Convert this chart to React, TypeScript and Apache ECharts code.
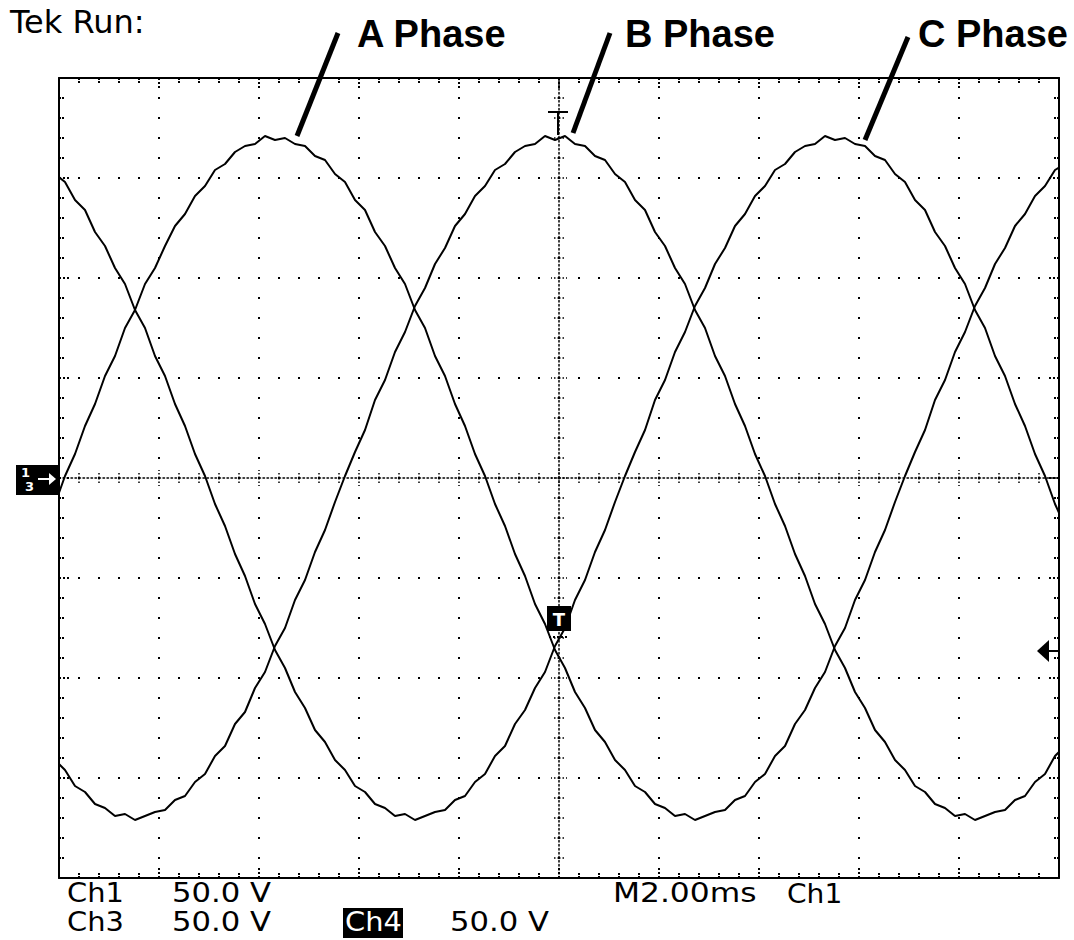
import React, { useEffect, useRef } from "react";
import * as echarts from "echarts";

// Sample clock of the record (ms): first sample time and spacing
const SAMPLE_START_MS = -0.08;
const SAMPLE_STEP_MS = 0.2;

// Volts (50 V/div)
const phaseA = [
  -13, 1, 12, 26, 37, 51, 61, 75, 84, 97,
  105, 116, 126, 132, 141, 146, 154, 157, 163, 166,
  167, 171, 169, 170, 167, 166, 161, 159, 152, 148,
  139, 134, 123, 116, 105, 97, 84, 75, 61, 51,
  37, 26, 12, 1, -13, -24, -38, -49, -63, -73,
  -86, -95, -107, -115, -126, -132, -141, -146, -154, -157,
  -163, -165, -169, -168, -171, -169, -167, -166, -161, -159,
  -152, -148, -139, -134, -123, -116, -105, -97, -84, -75,
  -61, -51, -37, -26, -12, 1, 13, 24, 39, 49,
  63, 73, 86, 95, 107, 115, 126, 132, 141, 146,
  154, 157,
];
const phaseB = [
  -141, -146, -154, -157, -163, -165, -169, -168, -171, -169,
  -167, -166, -161, -159, -152, -148, -139, -134, -123, -117,
  -105, -97, -84, -75, -61, -51, -37, -26, -12, 1,
  13, 24, 39, 49, 63, 73, 86, 95, 107, 115,
  126, 132, 141, 146, 154, 157, 163, 166, 167, 171,
  169, 171, 167, 166, 161, 159, 152, 148, 139, 134,
  123, 116, 105, 97, 84, 75, 61, 51, 37, 26,
  12, 1, -13, -24, -38, -49, -63, -73, -86, -95,
  -107, -115, -126, -132, -141, -146, -154, -157, -163, -165,
  -169, -168, -171, -169, -167, -166, -161, -159, -152, -148,
  -139, -134,
];
const phaseC = [
  152, 148, 139, 134, 123, 116, 105, 97, 84, 75,
  61, 51, 37, 26, 12, 1, -13, -24, -38, -49,
  -63, -73, -86, -95, -107, -115, -126, -132, -141, -146,
  -154, -157, -163, -165, -169, -168, -171, -169, -167, -166,
  -161, -159, -152, -148, -139, -134, -123, -116, -105, -97,
  -84, -75, -61, -51, -37, -26, -12,
  1, 13, 24, 39, 49, 63, 73, 86, 95, 107,
  115, 126, 132, 141, 146, 154, 157, 163, 166, 167,
  171, 169, 170, 167, 166, 161, 159, 152, 148, 139,
  134, 123, 116, 105, 97, 84, 75, 61, 51, 37,
  26, 12, 1, -13, -24,
];

// Screen scales: 10 horizontal divisions of 2 ms, 8 vertical divisions of 50 V
const X_MIN = 0;
const X_MAX = 20;
const X_DIV = 2;
const Y_MIN = -200;
const Y_MAX = 200;
const Y_DIV = 50;

const titleText = "Tek Run:";
const phaseLabels = ["A Phase", "B Phase", "C Phase"];
const readoutRow1 = ["Ch1", "50.0 V", "M2.00ms", "Ch1"];
const readoutRow2 = ["Ch3", "50.0 V", "Ch4", "50.0 V"];

const INK = "#000";

function toPairs(values: number[]) {
  return values.map((v, i) => [+(SAMPLE_START_MS + i * SAMPLE_STEP_MS).toFixed(2), v]);
}

function txt(text: string, x: number, y: number, o: any = {}) {
  return {
    type: "text",
    x,
    y,
    scaleX: o.sx ?? 1,
    z: 100,
    style: {
      text,
      fontSize: o.size ?? 27,
      fontFamily: o.family ?? "DejaVu Sans",
      fontWeight: o.weight ?? "normal",
      fill: o.fill ?? INK,
      align: o.align ?? "left",
      verticalAlign: "middle",
    },
  };
}

function ln(x1: number, y1: number, x2: number, y2: number, w: number, dash?: number[]) {
  return {
    type: "line",
    z: 100,
    shape: { x1, y1, x2, y2 },
    style: { stroke: INK, lineWidth: w, lineDash: dash },
  };
}

export default function App() {
  const ref = useRef<HTMLDivElement>(null);

  useEffect(() => {
    if (!ref.current) return;
    const chart = echarts.init(ref.current, undefined, { renderer: "svg" });

    const gridBox = { left: 59, top: 78, width: 1000, height: 800, outerBoundsMode: "none" };

    const borderX = (position: string, split: boolean) => ({
      type: "value",
      gridIndex: 0,
      position,
      min: X_MIN,
      max: X_MAX,
      interval: X_DIV,
      axisLine: { show: true, onZero: false, lineStyle: { color: INK, width: 2 } },
      axisTick: { show: true, inside: true, length: 12, lineStyle: { color: INK, width: 2, type: [2, 2] } },
      minorTick: { show: true, splitNumber: 5, length: 5, lineStyle: { color: INK, width: 2, type: [2, 1] } },
      axisLabel: { show: false },
      splitLine: { show: split, lineStyle: { color: INK, width: 2, type: [2, 18], dashOffset: 1 } },
      minorSplitLine: { show: false },
    });
    const borderY = (position: string, split: boolean) => ({
      type: "value",
      gridIndex: 0,
      position,
      min: Y_MIN,
      max: Y_MAX,
      interval: Y_DIV,
      axisLine: { show: true, onZero: false, lineStyle: { color: INK, width: 2 } },
      axisTick: { show: true, inside: true, length: 12, lineStyle: { color: INK, width: 2, type: [2, 2] } },
      minorTick: { show: true, splitNumber: 5, length: 5, lineStyle: { color: INK, width: 2, type: [2, 1] } },
      axisLabel: { show: false },
      splitLine: { show: split, lineStyle: { color: INK, width: 2, type: [2, 18], dashOffset: 1 } },
      minorSplitLine: { show: false },
    });
    const centerX = (gridIndex: number, inside: boolean) => ({
      type: "value",
      gridIndex,
      min: -(X_MAX - X_MIN) / 2,
      max: (X_MAX - X_MIN) / 2,
      interval: X_DIV,
      axisLine: { show: inside, onZero: true, lineStyle: { color: INK, width: 1.5, type: [1.5, 2.5] } },
      axisTick: { show: true, inside, length: 8, lineStyle: { color: INK, width: 1.5, type: [1.5, 2] } },
      minorTick: { show: true, splitNumber: 5, length: 5, lineStyle: { color: INK, width: 1.5, type: [1.5, 2] } },
      axisLabel: { show: false },
      splitLine: { show: false },
    });
    const centerY = (gridIndex: number, inside: boolean) => ({
      type: "value",
      gridIndex,
      min: Y_MIN,
      max: Y_MAX,
      interval: Y_DIV,
      axisLine: { show: inside, onZero: true, lineStyle: { color: INK, width: 1.5, type: [1.5, 2.5] } },
      axisTick: { show: true, inside, length: 8, lineStyle: { color: INK, width: 1.5, type: [1.5, 2] } },
      minorTick: { show: true, splitNumber: 5, length: 5, lineStyle: { color: INK, width: 1.5, type: [1.5, 2] } },
      axisLabel: { show: false },
      splitLine: { show: false },
    });

    const seriesOf = (name: string, values: number[]) => ({
      name,
      type: "line",
      xAxisIndex: 0,
      yAxisIndex: 0,
      data: toPairs(values),
      symbol: "none",
      showSymbol: false,
      smooth: false,
      clip: true,
      silent: true,
      z: 5,
      lineStyle: { color: INK, width: 2 },
    });

    const graphics: any[] = [
      txt(titleText, 10, 22, { size: 32 }),
      // phase labels and leaders
      txt(phaseLabels[0], 357, 34, { size: 38, family: "Liberation Sans", weight: "bold" }),
      txt(phaseLabels[1], 625, 34, { size: 38, family: "Liberation Sans", weight: "bold" }),
      txt(phaseLabels[2], 918, 34, { size: 38, family: "Liberation Sans", weight: "bold" }),
      ln(338, 33, 297, 136, 5),
      ln(610, 33, 573, 133, 5),
      ln(908, 37, 865, 140, 5),
      // ground reference marker (left)
      { type: "rect", z: 100, shape: { x: 16, y: 465, width: 43, height: 30 }, style: { fill: INK } },
      txt("1", 21, 472, { size: 13, weight: "bold", fill: "#fff" }),
      txt("3", 25, 486, { size: 13, weight: "bold", fill: "#fff" }),
      { type: "line", z: 101, shape: { x1: 38, y1: 479, x2: 50, y2: 479 }, style: { stroke: "#fff", lineWidth: 2 } },
      { type: "polygon", z: 101, shape: { points: [[56, 479], [49, 473], [49, 485]] }, style: { fill: "#fff" } },
      // trigger position marker (top) and trigger box
      ln(548, 112, 568, 112, 2),
      ln(558, 112, 558, 135, 2),
      { type: "rect", z: 100, shape: { x: 547, y: 606, width: 24, height: 25 }, style: { fill: INK } },
      txt("T", 559, 619, { size: 18, weight: "bold", fill: "#fff", align: "center" }),
      ln(549, 637, 569, 637, 2, [2, 2]),
      // trigger level arrow (right)
      { type: "polygon", z: 100, shape: { points: [[1037, 651], [1049, 640], [1049, 662]] }, style: { fill: INK } },
      ln(1048, 651, 1059, 651, 2),
      // readouts
      txt(readoutRow1[0], 67, 893, { sx: 1.07 }),
      txt(readoutRow1[1], 172, 893, { sx: 1.135 }),
      txt(readoutRow1[2], 613, 893, { sx: 1.16 }),
      txt(readoutRow1[3], 787, 893, { sx: 1.04 }),
      txt(readoutRow2[0], 67, 922, { sx: 1.07 }),
      txt(readoutRow2[1], 172, 922, { sx: 1.135 }),
      { type: "rect", z: 100, shape: { x: 343, y: 908, width: 60, height: 30 }, style: { fill: INK } },
      txt(readoutRow2[2], 345, 922, { sx: 1.07, fill: "#fff" }),
      txt(readoutRow2[3], 450, 922, { sx: 1.135 }),
    ];

    chart.setOption({
      animation: false,
      backgroundColor: "#fff",
      grid: [gridBox, gridBox, gridBox],
      xAxis: [borderX("bottom", true), borderX("top", false), centerX(1, true), centerX(2, false)],
      yAxis: [borderY("left", true), borderY("right", false), centerY(1, true), centerY(2, false)],
      series: [seriesOf("A Phase", phaseA), seriesOf("B Phase", phaseB), seriesOf("C Phase", phaseC)],
      graphic: graphics,
    });

    return () => chart.dispose();
  }, []);

  return (
    <div
      ref={ref}
      style={{ position: "fixed", left: 0, top: 0, width: 1074, height: 940, background: "#fff" }}
    />
  );
}
